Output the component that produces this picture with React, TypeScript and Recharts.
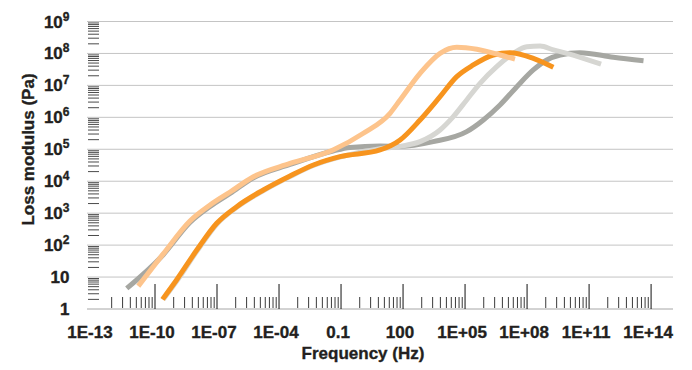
import React from 'react';
import { LineChart, Line, XAxis, YAxis, CartesianGrid } from 'recharts';

const FONT = '"Liberation Sans", Arial, Helvetica, sans-serif';
const TEXT = '#231f20';

// Frequency (Hz) / loss modulus (Pa) for each curve
const darkGrayFreq = [4.3e-12, 2.5e-10, 4.9e-9, 4.6e-8, 4.3e-7, 5.5e-6, 3.4e-4, 0.041, 0.27, 7.7, 72, 2900, 1.2e5, 7.7e5, 4.9e6, 3.2e7, 2.0e8, 9.0e8, 4.0e9, 3.6e10, 1.5e12, 4.3e13];
const darkGrayLoss = [4.4, 50, 511, 1620, 4130, 12600, 33400, 88500, 114000, 127000, 122000, 173000, 356000, 826000, 2.44e6, 9.1e6, 3.04e7, 6.25e7, 8.95e7, 1.06e8, 7.6e7, 5.9e7];

const lightGrayFreq = [2.5e-10, 1.2e-9, 1.12e-8, 1.02e-7, 9.5e-7, 1.86e-5, 3.6e-4, 4.9e-3, 0.095, 7.7, 72, 664, 6170, 2.7e4, 1.2e5, 5.3e5, 3.4e6, 2.2e7, 9.7e7, 4.3e8, 1.87e9, 8.3e9, 3.8e11];
const lightGrayLoss = [2.0, 7.9, 68, 468, 1550, 5200, 14300, 31600, 57500, 104000, 123000, 173000, 402000, 1.05e6, 3.5e6, 1.16e7, 3.85e7, 1.01e8, 1.63e8, 1.71e8, 1.29e8, 1.01e8, 4.6e7];

const orangeFreq = [2.3e-10, 1.1e-9, 1.05e-8, 9.7e-8, 9.0e-7, 1.74e-5, 3.4e-4, 4.6e-3, 0.089, 7.7, 72, 664, 6170, 3.96e4, 2.5e5, 2.3e6, 1.5e7, 2.0e8, 1.87e9];
const orangeLoss = [2.0, 8.1, 70, 482, 1600, 5300, 14600, 32200, 58600, 95000, 195000, 826000, 4.44e6, 1.88e7, 4.36e7, 8.95e7, 1.06e8, 7.06e7, 3.7e7];

const lightOrangeFreq = [1.55e-11, 2.5e-10, 4.9e-9, 4.6e-8, 4.3e-7, 5.5e-6, 3.4e-4, 0.041, 1.2, 23.5, 72, 664, 6170, 3.96e4, 3.7e5, 4.9e6, 2.6e7];
const lightOrangeLoss = [5.2, 53, 569, 1800, 4600, 13600, 35900, 95000, 317000, 1.34e6, 3.5e6, 2.39e7, 1.01e8, 1.56e8, 1.35e8, 8.95e7, 6.6e7];

// Axes
const xTicks = [1e-13, 1e-10, 1e-7, 1e-4, 0.1, 100, 1e5, 1e8, 1e11, 1e14];
const xTickLabels = ['1E-13', '1E-10', '1E-07', '1E-04', '0.1', '100', '1E+05', '1E+08', '1E+11', '1E+14'];
const yTicks = [1, 10, 100, 1e3, 1e4, 1e5, 1e6, 1e7, 1e8, 1e9];
const yTickBases = ['1', '10', '10', '10', '10', '10', '10', '10', '10', '10'];
const yTickExponents = ['', '', '2', '3', '4', '5', '6', '7', '8', '9'];
const minorSteps = [2, 3, 4, 5, 6, 7, 8, 9];

const yMinorTicks = yTicks.slice(0, -1).flatMap((t) => minorSteps.map((k) => k * t));
// x axis has one major step per three decades; minor marks split each step logarithmically
const xMinorTicks = xTicks.slice(0, -1).flatMap((t) => minorSteps.map((k) => k * k * k * t));
const xAllTicks = [...xTicks, ...xMinorTicks].sort((a, b) => a - b);
const yAllTicks = [...yTicks, ...yMinorTicks].sort((a, b) => a - b);

const xDomain = [Math.pow(10, -13.29), Math.pow(10, 15.06)];
const yDomain = [1, 1e9];

const X_TICK_SIZE = 6;
const X_TICK_MARGIN = 11;
const Y_TICK_SIZE = 6;
const Y_TICK_MARGIN = 11.5;

const toPoints = (f: number[], g: number[]) => f.map((v, i) => ({ f: v, g: g[i] }));
const darkGrayData = toPoints(darkGrayFreq, darkGrayLoss);
const lightGrayData = toPoints(lightGrayFreq, lightGrayLoss);
const orangeData = toPoints(orangeFreq, orangeLoss);
const lightOrangeData = toPoints(lightOrangeFreq, lightOrangeLoss);

const findIndex = (arr: number[], v: number) =>
  arr.findIndex((t) => Math.abs(Math.log10(t) - Math.log10(v)) < 1e-6);

const textStyle = {
  fontFamily: FONT,
  fontWeight: 'bold' as const,
  fill: TEXT,
  stroke: TEXT,
  strokeWidth: 0.35,
};

const XTick = (props: any) => {
  const { x, y, payload } = props;
  const i = findIndex(xTicks, payload.value);
  const axisY = y - X_TICK_SIZE - X_TICK_MARGIN;
  if (i < 0) {
    return <line x1={x} x2={x} y1={axisY - 1} y2={axisY - 12} stroke="#3a3a3a" strokeWidth={1} />;
  }
  return (
    <g>
      {i > 0 ? <line x1={x} x2={x} y1={axisY} y2={axisY - 25} stroke="#111" strokeWidth={1} /> : null}
      <text x={x - 3} y={y} dy="0.71em" textAnchor="middle" fontSize={17} {...textStyle}>
        {xTickLabels[i]}
      </text>
    </g>
  );
};

const YTick = (props: any) => {
  const { x, y, payload } = props;
  const i = findIndex(yTicks, payload.value);
  const axisX = x + Y_TICK_SIZE + Y_TICK_MARGIN;
  if (i < 0) {
    return <line x1={axisX + 1} x2={axisX + 12} y1={y} y2={y} stroke="#4a4a4a" strokeWidth={1} />;
  }
  return (
    <text x={x} y={y} dy="0.355em" textAnchor="end" fontSize={17} {...textStyle}>
      {yTickBases[i]}
      {yTickExponents[i] ? (
        <tspan dy={-7} fontSize={12}>
          {yTickExponents[i]}
        </tspan>
      ) : null}
    </text>
  );
};

const YTitle = () => {
  const cx = 27.5;
  const cy = 149.5;
  return (
    <text x={cx} y={cy} dy="0.355em" transform={`rotate(-90, ${cx}, ${cy})`} textAnchor="middle" fontSize={17} {...textStyle}>
      Loss modulus (Pa)
    </text>
  );
};

const XTitle = () => (
  <text x={363} y={359} textAnchor="middle" fontSize={17} {...textStyle}>
    Frequency (Hz)
  </text>
);

export default function App() {
  return (
    <div style={{ position: 'absolute', left: 0, top: 0, width: 692, height: 370, background: '#fff' }}>
      <LineChart width={692} height={370} margin={{ top: 21.5, right: 19, bottom: 0, left: 0 }}>
        <CartesianGrid vertical={false} horizontalValues={yTicks} stroke="#c4c4c4" strokeWidth={1} />
        <XAxis
          dataKey="f"
          type="number"
          scale="log"
          domain={xDomain}
          allowDataOverflow
          ticks={xAllTicks}
          interval={0}
          height={61}
          tickLine={false}
          tickSize={X_TICK_SIZE}
          tickMargin={X_TICK_MARGIN}
          axisLine={{ stroke: '#c4c4c4' }}
          tick={<XTick />}
          label={<XTitle />}
        />
        <YAxis
          type="number"
          scale="log"
          domain={yDomain}
          allowDataOverflow
          ticks={yAllTicks}
          interval={0}
          width={87}
          tickLine={false}
          tickSize={Y_TICK_SIZE}
          tickMargin={Y_TICK_MARGIN}
          axisLine={false}
          tick={<YTick />}
          label={<YTitle />}
        />
        <Line data={darkGrayData} dataKey="g" type="monotone" stroke="#a6a7a2" strokeWidth={5} dot={false} isAnimationActive={false} />
        <Line data={lightGrayData} dataKey="g" type="monotone" stroke="#d6d6d2" strokeWidth={5} dot={false} isAnimationActive={false} />
        <Line data={orangeData} dataKey="g" type="monotone" stroke="#f7941e" strokeWidth={5} dot={false} isAnimationActive={false} />
        <Line data={lightOrangeData} dataKey="g" type="monotone" stroke="#fdc48c" strokeWidth={5} dot={false} isAnimationActive={false} />
      </LineChart>
    </div>
  );
}
